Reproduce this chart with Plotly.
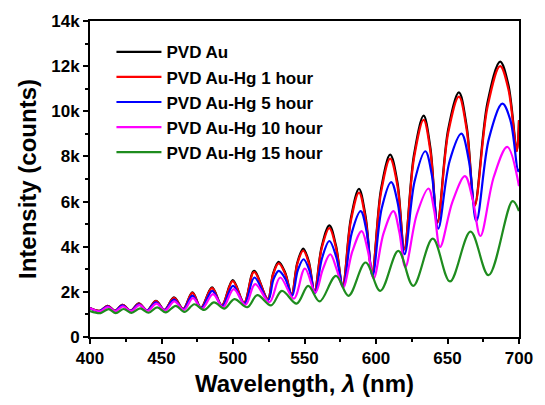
import plotly.graph_objects as go

# ---- data (extrema + shoulder points of each spectrum) ----
au_x = [400, 406.7, 412.4, 417.4, 422.7, 428.4, 434.2, 439.9, 446.1, 452.1,
        458.7, 465.2, 471.6, 477.6, 485.3, 492.2, 499.8, 507.8, 514.7, 524.3,
        528.0, 531.9, 536.5, 541.0, 545.0, 549.1, 553.0, 557.0, 562.0, 567.4,
        572.0, 576.7, 582.4, 588.1, 592.7, 597.3, 603.5, 609.9, 615.0, 619.8,
        626.5, 633.3, 638.0, 643.0, 650.5, 658.0, 663.5, 669.0, 678.0, 686.8,
        692.5, 698.5, 700]
au_y = [1280, 1160, 1383, 1160, 1427, 1165, 1488, 1175, 1603, 1200,
        1753, 1240, 1974, 1300, 2195, 1400, 2518, 1520, 2929, 1680,
        2800, 3326, 2850, 1880, 3300, 3918, 3350, 2000, 4000, 4947,
        4050, 2270, 5250, 6568, 5350, 2860, 6550, 8083, 6850, 3890,
        8050, 9806, 8400, 5100, 9200, 10835, 9300, 5850, 10400, 12204,
        11200, 8250, 9600]

hg1_x = au_x
hg1_y = [1280, 1160, 1383, 1160, 1427, 1165, 1480, 1175, 1595, 1200,
         1740, 1240, 1955, 1300, 2165, 1400, 2475, 1520, 2880, 1680,
         2760, 3260, 2800, 1880, 3240, 3830, 3280, 2000, 3920, 4820,
         3960, 2270, 5130, 6400, 5220, 2860, 6400, 7900, 6700, 3880,
         7900, 9620, 8250, 5060, 9050, 10650, 9150, 5800, 10200, 12000,
         11000, 8230, 9600]

hg5_x = [400, 406.7, 412.4, 417.4, 422.7, 428.4, 434.2, 439.9, 446.1, 452.1,
         458.7, 465.2, 471.6, 477.8, 485.5, 492.4, 500.0, 508.0, 515.0, 524.5,
         528.3, 532.0, 536.6, 541.3, 545.3, 549.3, 553.3, 557.3, 562.3, 567.4,
         572.2, 577.0, 583.0, 589.3, 593.5, 597.6, 604.0, 610.6, 615.3, 620.0,
         627.0, 634.5, 639.0, 643.5, 651.5, 659.7, 665.0, 670.2, 679.0, 688.4,
         694.0, 699.3, 700]
hg5_y = [1280, 1150, 1360, 1150, 1400, 1155, 1450, 1165, 1540, 1185,
         1660, 1220, 1830, 1280, 2045, 1370, 2266, 1480, 2636, 1630,
         2550, 2929, 2580, 1820, 2950, 3445, 2980, 1950, 3500, 4254,
         3550, 2220, 4600, 5579, 4650, 2710, 5700, 6860, 5900, 3666,
         6900, 8230, 7200, 4800, 7800, 9010, 7800, 5140, 8800, 10336,
         9600, 7345, 7450]

hg10_x = [400, 407.0, 412.5, 417.7, 423.0, 428.7, 434.5, 440.3, 446.5, 452.5,
          459.0, 465.6, 472.0, 478.3, 486.0, 493.0, 500.5, 508.7, 515.5, 525.5,
          533.0, 542.5, 550.3, 557.6, 562.8, 568.0, 572.5, 577.0, 583.5, 590.0,
          594.2, 598.4, 605.3, 612.2, 616.3, 620.5, 628.6, 636.7, 640.7, 644.8,
          653.5, 662.2, 667.6, 673.0, 682.4, 691.8, 700]
hg10_y = [1280, 1140, 1330, 1140, 1360, 1145, 1410, 1155, 1480, 1170,
          1580, 1200, 1720, 1250, 1900, 1320, 2120, 1420, 2341, 1540,
          2636, 1700, 3034, 1974, 3000, 3666, 3000, 2200, 3800, 4695,
          3850, 2600, 4600, 5579, 4650, 3100, 5450, 6580, 5600, 3990,
          6000, 7125, 6100, 4475, 7100, 8423, 6683]

hg15_x = [400, 407.5, 413.0, 418.0, 423.5, 429.0, 435.0, 441.0, 447.0, 453.0, 460.0, 466.0, 473.0,
          479.8, 486.7, 494.0, 501.0, 510.0, 517.0, 526.6, 534.2, 544.5, 552.6, 560.6, 572.0,
          580.8, 592.7, 603.0, 615.6, 626.0, 639.7, 651.7, 666.1, 678.7, 695.5, 700]
hg15_y = [1150, 1060, 1237, 1060, 1240, 1065, 1267, 1075, 1312, 1090, 1383, 1110, 1450,
          1200, 1533, 1260, 1678, 1320, 1855, 1400, 2045, 1480, 2266, 1577, 2708,
          1824, 3300, 2045, 3812, 2268, 4358, 2460, 4667, 2738, 6022, 5580]

series = [
    ("PVD Au", au_x, au_y, "#000000"),
    ("PVD Au-Hg 1 hour", hg1_x, hg1_y, "#ff0000"),
    ("PVD Au-Hg 5 hour", hg5_x, hg5_y, "#0000ff"),
    ("PVD Au-Hg 10 hour", hg10_x, hg10_y, "#ff00ff"),
    ("PVD Au-Hg 15 hour", hg15_x, hg15_y, "#1e8c1e"),
]

y_tickvals = [0, 2000, 4000, 6000, 8000, 10000, 12000, 14000]
y_ticktext = ["0", "2k", "4k", "6k", "8k", "10k", "12k", "14k"]
x_tickvals = [400, 450, 500, 550, 600, 650, 700]

fig = go.Figure()
for name, xs, ys, col in series:
    fig.add_trace(go.Scatter(x=xs, y=ys, mode="lines", name=name,
                             line=dict(color=col, width=2.2, shape="spline", smoothing=1.0)))

font_family = "Arial, 'Liberation Sans', sans-serif"
axis_common = dict(showline=True, linecolor="black", linewidth=2, mirror=True,
                   ticks="outside", ticklen=5, tickwidth=1.5, tickcolor="black",
                   showgrid=False, zeroline=False,
                   tickfont=dict(family=font_family, size=17, color="black", weight="bold"))

fig.update_layout(
    width=545, height=405,
    margin=dict(l=90, r=19, t=21, b=67),
    paper_bgcolor="white", plot_bgcolor="white",
    showlegend=True,
    legend=dict(x=0.05, y=0.958, xanchor="left", yanchor="top",
                bgcolor="rgba(0,0,0,0)", borderwidth=0,
                font=dict(family=font_family, size=17, color="black", weight="bold"),
                itemwidth=45, tracegroupgap=0),
    xaxis=dict(range=[400, 700], tickvals=x_tickvals,
               minor=dict(ticks="outside", ticklen=3, tickcolor="black", dtick=25, tick0=400),
               title=dict(text="Wavelength, <i>λ</i> (nm)", standoff=8,
                          font=dict(family=font_family, size=24, color="black", weight="bold")),
               **axis_common),
    yaxis=dict(range=[0, 14000], tickvals=y_tickvals, ticktext=y_ticktext,
               minor=dict(ticks="outside", ticklen=3, tickcolor="black", dtick=1000, tick0=0),
               title=dict(text="Intensity (counts)", standoff=8,
                          font=dict(family=font_family, size=24, color="black", weight="bold")),
               **axis_common),
)

fig.write_html("out.html")
